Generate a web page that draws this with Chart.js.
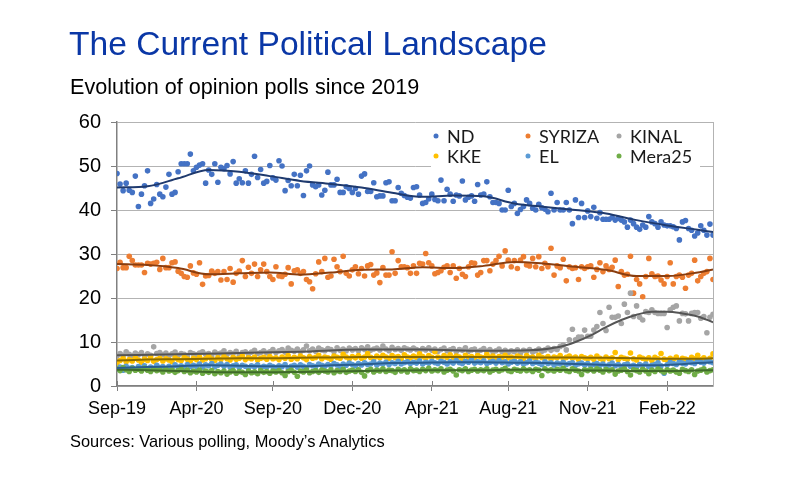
<!DOCTYPE html>
<html><head><meta charset="utf-8">
<script src="https://cdn.jsdelivr.net/npm/chart.js@4.4.1/dist/chart.umd.min.js"></script>
<style>
html,body{margin:0;padding:0;background:#fff;width:800px;height:484px;overflow:hidden;font-family:"Liberation Sans",Arial,sans-serif;}
#wrap{position:relative;width:800px;height:484px;}
canvas{position:absolute;left:0;top:0;}
.t{position:absolute;white-space:nowrap;}
#title{left:69px;top:24px;font-size:33.6px;line-height:40px;color:#0a37a6;}
#sub{left:70px;top:73.5px;font-size:21.6px;line-height:26px;color:#000;}
#src{left:70px;top:431px;font-size:16.4px;line-height:20px;color:#000;}
</style></head>
<body><div id="wrap">
<canvas id="c" width="800" height="484"></canvas>
<div class="t" id="title">The Current Political Landscape</div>
<div class="t" id="sub">Evolution of opinion polls since 2019</div>
<div class="t" id="src">Sources: Various polling, Moody’s Analytics</div>
</div>
<script>
// x-axis labels (placed at poll index positions)
const tickIdx = [0, 26, 51, 77, 103, 128, 154, 180];
const tickLabels = ['Sep-19','Apr-20','Sep-20','Dec-20','Apr-21','Aug-21','Nov-21','Feb-22'];
const seriesNames = ['ND','SYRIZA','KINAL','KKE','EL','Mera25'];

// poll results (%), one value per poll, oldest first
const nd = [48.3,45.9,44.4,46.1,44.5,44.0,47.7,40.8,43.6,45.5,48.9,41.5,42.5,45.8,43.6,43.0,45.2,48.1,43.6,44.0,48.7,50.5,50.5,50.5,52.7,48.9,49.7,50.2,50.5,46.1,49.1,48.1,50.5,46.3,49.7,49.4,50.1,48.2,51.0,46.1,47.1,46.2,48.9,46.1,48.1,52.2,47.4,49.2,46.1,46.5,50.1,
47.3,46.8,51.2,50.0,44.4,46.7,45.5,48.1,45.5,47.9,43.3,48.9,50.0,45.7,45.3,45.7,43.4,44.5,48.6,45.7,45.7,47.0,44.0,44.0,45.3,44.9,44.0,44.9,43.6,47.7,48.2,44.2,44.2,46.2,43.0,43.2,43.2,46.2,46.4,42.1,42.1,45.1,43.8,43.3,42.9,42.7,45.1,
45.3,43.4,41.5,41.7,42.5,43.6,42.4,42.1,46.8,42.1,44.7,43.6,42.0,43.4,43.2,46.6,42.3,42.9,43.2,42.0,45.8,43.4,43.6,46.4,43.0,41.7,41.7,41.5,40.0,40.0,44.5,40.8,41.5,39.2,40.1,40.8,42.3,41.5,40.4,40.0,41.3,40.5,40.2,39.6,43.8,40.0,41.7,40.0,
40.0,41.7,40.0,36.9,42.3,38.3,41.5,38.3,39.8,38.5,40.6,38.1,39.4,37.9,37.9,37.9,38.3,37.7,38.1,37.7,37.3,36.1,37.7,36.9,36.1,35.6,36.6,36.1,38.5,37.3,36.9,36.1,37.3,36.6,36.4,36.4,36.2,35.8,33.2,37.3,37.6,35.8,35.4,34.1,34.8,36.4,35.4,34.3,36.8,34.3];
const syriza = [26.7,28.1,26.9,26.9,29.5,28.5,27.5,27.5,27.5,25.8,27.9,27.7,27.9,28.1,26.5,29.0,26.9,26.9,28.0,28.2,26.1,25.6,24.9,24.7,27.3,25.7,25.4,28.0,23.1,25.0,25.1,26.1,25.6,26.0,24.1,26.0,24.2,26.7,23.6,25.6,26.1,28.5,24.9,27.0,25.6,27.7,24.9,26.4,
27.7,26.0,24.9,24.2,27.1,25.0,24.9,25.4,26.9,23.2,26.2,26.4,25.6,26.0,24.2,23.7,22.1,25.5,28.2,26.0,29.0,24.7,25.0,28.8,27.1,26.0,29.5,25.6,25.0,26.4,27.1,25.5,26.7,25.0,27.3,27.6,25.2,25.7,23.5,26.9,25.2,25.2,30.5,25.6,28.5,27.1,27.1,26.9,25.6,27.3,
25.6,27.9,27.7,30.1,28.0,27.3,25.5,25.8,26.2,27.0,27.3,25.8,27.3,24.5,26.7,25.4,24.9,27.1,28.0,27.9,25.2,25.8,28.5,28.5,26.2,27.7,28.5,29.5,27.3,30.7,28.6,27.1,28.5,26.7,28.6,29.4,27.5,27.3,29.0,27.1,29.4,26.7,27.9,27.1,31.3,25.2,27.3,26.9,28.8,23.9,
27.1,26.7,26.9,24.2,27.1,26.7,27.1,27.3,24.7,26.5,28.0,26.0,27.3,26.5,27.0,28.6,22.6,26.0,25.2,25.4,29.5,21.1,24.2,23.2,20.3,24.9,29.0,25.5,24.9,25.0,24.1,23.2,24.9,28.0,23.2,24.9,25.2,24.7,22.2,25.2,25.6,28.6,23.9,24.9,25.6,26.0,29.0,24.2];
const kinal = [6.8,7.4,7.0,7.8,7.2,6.9,7.5,7.1,7.6,6.8,7.3,7.0,8.9,7.4,7.6,7.1,7.5,6.9,7.3,7.7,7.0,7.4,7.2,6.8,7.6,7.3,
7.1,7.5,7.8,7.2,7.4,6.9,7.7,7.3,7.5,8.0,7.2,7.6,7.4,7.9,7.1,7.6,7.8,7.3,7.7,8.1,7.4,7.6,8.0,7.5,7.8,8.3,
7.6,8.0,8.3,7.7,8.6,8.1,7.9,8.4,7.8,8.2,9.1,8.0,8.4,7.9,8.6,8.2,8.0,8.5,8.3,7.8,8.7,8.1,8.4,8.0,8.6,8.2,
8.5,8.0,8.7,8.3,8.9,8.1,8.4,8.6,8.2,9.1,8.4,8.0,8.8,8.3,8.5,8.1,8.7,8.4,8.2,8.6,8.3,8.0,8.5,8.2,8.7,8.1,
8.4,7.9,8.3,8.6,8.0,8.2,8.5,7.8,8.3,8.1,8.7,7.9,8.2,8.4,7.8,8.1,8.5,7.9,8.3,7.7,8.0,8.4,7.8,8.1,7.6,8.0,
7.8,8.2,7.5,8.1,7.9,8.3,7.7,8.0,8.4,7.9,8.2,8.6,8.1,8.5,8.3,9.0,
9.3,8.2,10.5,12.9,10.5,11.1,11.1,12.7,11.3,11.3,12.7,13.5,16.7,14.2,12.6,17.9,15.6,15.6,15.9,14.2,18.6,16.7,21.1,15.8,18.2,15.6,15.0,16.9,16.7,17.3,16.7,16.5,16.5,16.5,13.3,17.3,17.9,18.2,14.8,16.5,16.4,14.8,16.5,16.7,16.7,15.4,15.8,12.1,15.6,16.3];
const kke = [5.2,5.8,6.3,5.5,6.0,5.7,6.4,5.9,5.4,6.1,5.8,6.6,5.6,6.0,6.3,5.7,6.2,5.9,5.5,6.4,6.0,5.8,6.5,6.1,5.7,6.3,
6.0,6.6,5.9,6.2,6.8,6.1,5.8,6.4,6.0,6.7,6.2,5.9,6.5,6.1,6.3,6.8,6.0,6.4,6.2,6.6,5.9,6.3,6.5,6.1,6.7,6.2,
6.4,6.0,6.6,6.3,6.9,6.1,6.5,6.2,6.8,6.4,6.0,6.7,6.3,6.5,7.0,6.2,6.6,6.4,6.1,6.8,6.5,6.3,7.2,6.6,6.2,6.7,
6.4,6.9,6.3,6.6,7.4,6.5,6.2,6.8,6.4,7.0,6.6,6.3,6.9,6.5,6.7,6.2,7.1,6.6,6.4,6.8,6.5,7.3,6.7,6.3,6.9,6.5,
7.8,6.6,6.3,6.9,6.5,7.1,6.4,6.8,6.6,6.2,7.0,6.5,6.7,6.3,6.9,6.6,6.4,7.2,6.5,6.8,6.3,6.7,6.5,7.0,6.4,6.6,
6.3,6.8,6.5,6.1,6.9,6.4,6.6,6.2,7.0,6.5,6.3,6.7,6.1,6.6,6.4,6.9,6.2,6.5,6.8,6.3,6.6,6.0,6.7,6.4,6.2,6.5,
6.1,6.8,6.3,5.9,6.6,6.2,6.4,7.6,6.0,6.5,6.3,6.1,7.5,6.2,5.9,6.6,6.3,6.0,6.4,5.8,6.5,6.2,7.4,6.1,5.9,6.3,
6.0,6.6,5.8,6.3,6.1,5.9,6.5,6.2,7.0,6.0,6.4,5.8,6.3,7.3];
const el = [3.8,4.3,3.6,4.5,4.0,4.2,3.7,4.4,4.1,4.6,3.9,4.3,4.0,4.7,4.2,4.4,3.9,4.5,4.1,4.8,4.3,4.6,4.2,4.9,4.4,4.7,
4.5,5.0,4.3,4.8,4.6,5.1,4.4,4.7,5.0,4.5,4.9,4.3,4.6,4.8,4.2,4.7,4.5,4.1,4.6,4.4,4.8,4.2,4.5,4.3,4.7,4.4,
4.2,4.6,4.4,4.9,4.1,4.5,4.7,4.3,4.8,4.5,4.2,4.9,4.6,4.4,5.0,4.7,4.5,4.9,4.6,5.1,4.8,4.5,5.0,4.7,5.2,4.9,
4.6,5.1,4.8,5.3,4.9,5.0,5.5,4.8,5.2,5.0,5.4,4.9,5.3,5.1,5.6,5.0,5.3,5.5,5.1,5.4,5.2,5.7,5.0,5.4,5.2,5.6,
5.3,5.1,5.6,5.4,5.0,5.5,5.2,5.8,5.3,5.1,5.6,5.4,5.9,5.2,5.5,5.3,5.7,5.1,5.4,5.6,5.2,5.8,5.3,5.5,5.0,5.4,
5.6,5.2,5.5,5.0,5.3,5.7,5.1,5.4,5.2,4.9,5.5,5.1,5.3,4.8,5.2,5.0,5.4,4.9,5.1,5.3,4.7,5.0,5.2,4.8,5.1,4.6,
4.9,5.1,4.7,5.0,4.5,4.8,5.2,4.6,4.9,4.4,4.8,5.0,4.5,4.7,4.3,4.9,4.6,5.0,4.4,4.7,4.9,5.3,4.6,2.9,4.8,5.4,
5.1,4.9,5.5,5.2,5.0,5.6,5.3,5.1,5.7,5.4,5.2,5.8,5.5,5.3];
const mera25 = [3.9,3.5,4.2,3.7,3.3,4.0,3.6,3.8,3.4,4.1,3.6,3.3,3.9,3.5,3.7,3.2,3.8,3.4,3.6,3.1,3.5,3.8,3.3,3.6,3.0,3.4,
3.2,3.6,2.9,3.4,3.1,3.5,2.8,3.3,3.0,3.4,2.7,3.2,3.5,2.9,3.3,3.1,2.6,3.4,3.0,3.2,2.8,3.5,3.1,3.3,2.9,3.4,
3.2,3.5,3.0,2.4,3.3,3.6,3.1,2.2,3.4,3.2,3.7,3.0,3.3,3.5,3.1,3.6,3.4,3.2,3.7,3.0,3.5,3.3,3.8,3.1,3.4,3.6,
3.3,3.7,3.1,2.3,3.5,3.8,3.2,3.6,3.4,3.9,3.3,3.6,3.5,3.1,3.8,3.4,3.7,3.2,3.9,3.5,3.6,3.3,3.8,3.5,4.0,3.4,
3.7,3.5,3.9,3.2,3.6,3.8,3.4,2.5,3.7,3.5,3.9,3.3,3.6,3.8,3.4,3.7,3.5,3.9,3.2,3.6,3.8,3.4,3.7,4.0,3.5,3.3,
3.8,3.6,3.4,3.9,3.5,3.7,3.3,3.8,3.6,2.4,3.9,3.5,3.7,3.4,3.8,3.6,4.0,3.5,3.3,3.9,3.6,3.4,2.6,3.7,3.5,3.8,
3.4,3.9,3.6,3.2,3.8,3.5,3.7,2.7,3.4,3.6,3.9,3.3,2.5,3.7,3.5,3.2,3.8,3.4,2.8,3.6,3.3,3.9,3.5,3.1,3.7,3.4,
3.6,3.2,2.9,3.8,3.5,3.3,3.7,2.6,3.4,3.6,3.9,3.2,3.5,3.7];

// trend lines (value at given poll index)
const trendIdx = [0,10,20,30,40,50,60,70,80,90,100,110,120,130,140,150,160,170,180,190,195];
const ndTrend = [45.1,45.4,47.2,49.1,48.7,47.7,46.6,45.9,45.1,43.9,43.0,43.3,43.1,41.5,40.7,40.0,39.2,37.7,36.5,35.5,35.0];
const syrizaTrend = [27.7,27.5,26.8,25.4,25.6,25.8,25.3,25.8,26.4,26.5,27.0,26.8,27.3,28.2,27.8,27.1,26.4,25.0,25.0,25.8,26.5];
const kkeTrend = [5.8,6.0,6.1,6.2,6.3,6.3,6.4,6.5,6.6,6.6,6.6,6.6,6.6,6.6,6.5,6.5,6.4,6.3,6.2,6.2,6.3];
const elTrend = [4.1,4.3,4.5,4.7,4.6,4.5,4.5,4.7,4.9,5.2,5.3,5.4,5.4,5.3,5.2,5.0,4.8,4.7,4.8,5.2,5.4];
const meraTrend = [3.7,3.6,3.4,3.2,3.1,3.1,3.2,3.3,3.4,3.5,3.6,3.6,3.6,3.7,3.7,3.6,3.5,3.4,3.4,3.5,3.6];
const kinalTrendIdx = [0,20,40,60,80,100,120,135,145,150,155,160,165,170,175,180,185,190,195];
const kinalTrend = [7.0,7.2,7.5,7.8,8.3,8.3,8.0,8.1,8.9,10.0,11.5,13.4,15.0,16.2,16.9,16.9,16.5,15.8,14.5];

const colors = {ND:'#4472C4',SYRIZA:'#ED7D31',KINAL:'#A5A5A5',KKE:'#FFC000',EL:'#5B9BD5',Mera25:'#70AD47'};
const trendColors = {ND:'#1f3a6e',SYRIZA:'#8a3d0e',KINAL:'#555555',KKE:'#8a6a00',EL:'#2a5d8f',Mera25:'#3f6a2a'};

const pts = a => a.map((v,i)=>({x:i,y:v}));
const tpts = (ix,a) => ix.map((xv,i)=>({x:xv,y:a[i]}));
const dots = (name, arr, order) => ({label:name, data:pts(arr), order, showLine:false,
  pointRadius:2.8, pointHoverRadius:2.8, pointBorderWidth:0, backgroundColor:colors[name], borderColor:colors[name]});
const trend = (name, ix, arr) => ({label:name+' trend', type:'line', data:tpts(ix,arr), order:0,
  showLine:true, pointRadius:0, borderColor:trendColors[name], borderWidth:2, fill:false, cubicInterpolationMode:'monotone'});

const maxIdx = nd.length - 1;

const decor = {
  id:'decor',
  afterDraw(chart){
    const {ctx, chartArea:a, scales:{x}} = chart;
    ctx.save();
    // right frame line
    ctx.strokeStyle = '#b3b3b3'; ctx.lineWidth = 1;
    ctx.beginPath(); ctx.moveTo(Math.round(a.right)+0.5, a.top); ctx.lineTo(Math.round(a.right)+0.5, a.bottom); ctx.stroke();
    // inner part of cross tick marks
    ctx.strokeStyle = '#808080'; ctx.lineWidth = 1;
    tickIdx.forEach(v=>{ const px = Math.round(x.getPixelForValue(v))+0.5;
      ctx.beginPath(); ctx.moveTo(px, a.bottom-5); ctx.lineTo(px, a.bottom); ctx.stroke(); });
    // legend box
    ctx.fillStyle = '#fff';
    ctx.fillRect(431, 123.5, 269, 45);
    const cols = [436, 528, 619], rows = [136, 156];
    ctx.font = '18px Lato, "Liberation Sans", sans-serif';
    ctx.textBaseline = 'middle'; ctx.textAlign = 'left';
    seriesNames.forEach((n,i)=>{
      const cx = cols[i%3], cy = rows[Math.floor(i/3)];
      ctx.fillStyle = colors[n];
      ctx.beginPath(); ctx.arc(cx, cy, 2.5, 0, Math.PI*2); ctx.fill();
      ctx.fillStyle = '#1a1a1a';
      ctx.fillText(n, cx+11, cy+1);
    });
    ctx.restore();
  }
};

new Chart(document.getElementById('c'), {
  type:'scatter',
  data:{datasets:[
    dots('ND', nd, 6), dots('SYRIZA', syriza, 5), dots('KINAL', kinal, 4),
    dots('KKE', kke, 3), dots('EL', el, 2), dots('Mera25', mera25, 1),
    trend('ND', trendIdx, ndTrend), trend('SYRIZA', trendIdx, syrizaTrend), trend('KINAL', kinalTrendIdx, kinalTrend),
    trend('KKE', trendIdx, kkeTrend), trend('EL', trendIdx, elTrend), trend('Mera25', trendIdx, meraTrend)
  ]},
  options:{
    responsive:false, animation:false, devicePixelRatio:1,
    layout:{padding:{left:0, top:122, right:87, bottom:48}},
    plugins:{legend:{display:false}, tooltip:{enabled:false}},
    scales:{
      x:{type:'linear', min:0, max:maxIdx,
        afterBuildTicks: s => { s.ticks = tickIdx.map(v=>({value:v})); },
        afterFit: s => { s.height = 50; },
        ticks:{autoSkip:false, maxRotation:0, minRotation:0, padding:7, color:'#000',
          font:{family:'"Liberation Sans", Arial, sans-serif', size:18},
          callback: v => { const k = tickIdx.indexOf(v); return k>=0 ? tickLabels[k] : ''; }},
        grid:{drawOnChartArea:false, drawTicks:true, tickLength:5, tickColor:'#808080'},
        border:{display:true, color:'#808080', width:1.5}
      },
      y:{min:0, max:60,
        afterFit: s => { s.width = 117; },
        ticks:{stepSize:10, padding:10, color:'#000',
          font:{family:'"Liberation Sans", Arial, sans-serif', size:20}},
        grid:{color:'#b3b3b3', lineWidth:1, drawTicks:true, tickLength:6, tickColor:'#808080'},
        border:{display:true, color:'#808080', width:1.5}
      }
    }
  },
  plugins:[decor]
});
</script>
</body></html>
